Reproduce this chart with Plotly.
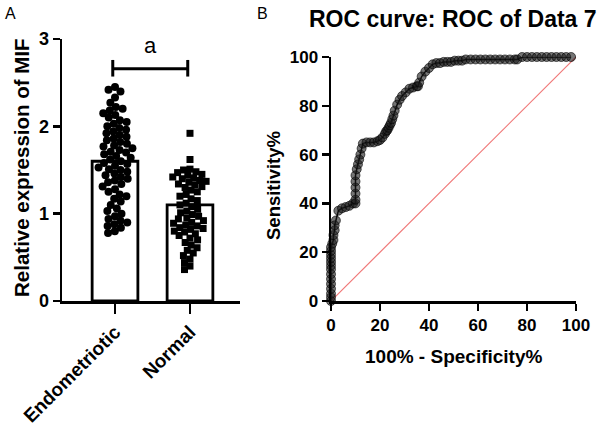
import math
import plotly.graph_objects as go

# ---------------- data ----------------
groups = ["Endometriotic", "Normal"]
bar_means = [1.60, 1.10]
endo_vals = [2.45, 2.42, 2.40, 2.33, 2.27, 2.22, 2.20, 2.18, 2.15, 2.13, 2.10, 2.07,
             2.05, 2.03, 2.00, 1.98, 1.96, 1.94, 1.92, 1.90, 1.88, 1.86, 1.84, 1.82,
             1.80, 1.78, 1.77, 1.75, 1.73, 1.71, 1.70, 1.68, 1.66, 1.64, 1.62, 1.60,
             1.58, 1.57, 1.55, 1.53, 1.51, 1.50, 1.48, 1.46, 1.44, 1.42, 1.40, 1.38,
             1.36, 1.34, 1.31, 1.28, 1.25, 1.22, 1.20, 1.17, 1.14, 1.10, 1.06, 1.03,
             1.00, 0.97, 0.94, 0.92, 0.90, 0.88, 0.86, 0.84, 0.80, 0.78]
norm_vals = [1.92, 1.62, 1.51, 1.50, 1.48, 1.47, 1.45, 1.44, 1.42, 1.41, 1.40, 1.38,
             1.37, 1.36, 1.34, 1.33, 1.31, 1.30, 1.27, 1.25, 1.22, 1.20, 1.17, 1.15,
             1.12, 1.10, 1.08, 1.05, 1.03, 1.01, 0.99, 0.97, 0.95, 0.94, 0.92, 0.90,
             0.89, 0.87, 0.86, 0.84, 0.83, 0.82, 0.80, 0.79, 0.77, 0.75, 0.72, 0.70,
             0.67, 0.64, 0.61, 0.58, 0.55, 0.52, 0.48, 0.44, 0.40, 0.36]

roc_fpr = [0, 0, 0, 0, 0, 0, 0, 0, 0, 0, 0, 0, 0, 0, 0.5, 1, 1, 1.5, 1.5, 2, 3, 4.5, 6,
           7.5, 9, 10, 10, 10, 10, 10, 10, 10.5, 11, 11.5, 12, 12.5, 13, 14.5, 16, 17.5,
           19, 20, 21, 22, 22.5, 23, 23.5, 24, 24.5, 25, 25.5, 26, 27, 28, 29, 30.5,
           32, 33.5, 35, 35.5, 36, 37, 38.5, 40, 41.5, 43, 44.5, 46, 47.5, 49, 50.5,
           52, 53.5, 55, 57, 59, 61, 63, 65, 67, 69, 71, 73, 75, 76, 78, 80, 82, 84,
           86, 88, 90, 92, 94, 96, 98, 100]
roc_tpr = [0, 1.5, 3, 5, 7, 9, 11, 13, 14.5, 16, 17.5, 19, 20.5, 22, 23.5, 25, 27,
           29, 31, 33, 37, 38, 38.5, 39, 40, 40, 41.5, 44, 46.5, 49, 51.5, 54, 56, 58,
           60, 62.5, 64.5, 65, 65, 65, 65.5, 66, 67, 68.5, 69.5, 70, 71, 72, 73, 74.5,
           76, 78, 80.5, 82.5, 84, 85.5, 87, 87.5, 88, 88, 89.5, 92, 94, 95.5, 97,
           97.5, 97.5, 98, 98, 98, 98.5, 98.5, 98.5, 99, 99, 99, 99, 99, 99, 99, 99,
           99, 99, 99, 99, 100, 100, 100, 100, 100, 100, 100, 100, 100, 100, 100]
diag = [0, 100]

y_ticks_left = [0, 1, 2, 3]
roc_ticks = [0, 20, 40, 60, 80, 100]

# ---------------- layout geometry ----------------
W, H = 603, 427
FONT = "Liberation Sans, Arial, sans-serif"


def px(x):
    return x / W


def py(y):
    return 1 - y / H


L_X0, L_X1, L_Y0, L_Y1 = 62, 240, 39, 301
R_X0, R_X1, R_Y0, R_Y1 = 331, 576, 57, 301
xr_left = [-0.707, 1.667]
ypx_unit = (L_Y1 - L_Y0) / 3.0
xpx_unit = (L_X1 - L_X0) / (xr_left[1] - xr_left[0])


def swarm(vals, dpx):
    placed = []
    out = [0.0] * len(vals)
    order = sorted(range(len(vals)), key=lambda i: -vals[i])
    for i in order:
        y = vals[i] * ypx_unit
        ivs = []
        for (xj, yj) in placed:
            dy = abs(y - yj)
            if dy < dpx:
                h = math.sqrt(dpx * dpx - dy * dy)
                ivs.append((xj - h, xj + h))
        cands = [0.0] + [e for iv in ivs for e in iv]
        cands.sort(key=lambda c: (abs(c), c))
        pick = 0.0
        for c in cands:
            if all(not (lo + 1e-6 < c < hi - 1e-6) for lo, hi in ivs):
                pick = c
                break
        placed.append((pick, y))
        out[i] = pick / xpx_unit
    return out


endo_x = [0 + o for o in swarm(endo_vals, 7.0)]
norm_x = [1 + o for o in swarm(norm_vals, 6.5)]

fig = go.Figure()

fig.add_trace(go.Bar(x=[0, 1], y=bar_means, width=0.61,
                     marker=dict(color="white", line=dict(color="black", width=2.8)),
                     xaxis="x", yaxis="y", showlegend=False, hoverinfo="skip"))
fig.add_trace(go.Scatter(x=endo_x, y=endo_vals, mode="markers",
                         marker=dict(symbol="circle", size=8, color="black"),
                         xaxis="x", yaxis="y", showlegend=False, cliponaxis=False))
fig.add_trace(go.Scatter(x=norm_x, y=norm_vals, mode="markers",
                         marker=dict(symbol="square", size=7, color="black"),
                         xaxis="x", yaxis="y", showlegend=False, cliponaxis=False))

# ROC
fig.add_trace(go.Scatter(x=diag, y=diag, mode="lines",
                         line=dict(color="#f07878", width=1.2),
                         xaxis="x2", yaxis="y2", showlegend=False))
fig.add_trace(go.Scatter(x=roc_fpr, y=roc_tpr, mode="lines+markers",
                         line=dict(color="black", width=1.5),
                         marker=dict(symbol="circle", size=9, color="rgba(25,25,25,0.6)",
                                     line=dict(color="rgba(0,0,0,0.6)", width=1)),
                         xaxis="x2", yaxis="y2", showlegend=False, cliponaxis=False))

axis_common = dict(showline=True, linecolor="black", linewidth=2.5, ticks="outside",
                   tickwidth=2.5, tickcolor="black", showgrid=False, zeroline=False,
                   fixedrange=True, automargin=False)

fig.update_layout(
    width=W, height=H, autosize=False,
    margin=dict(l=0, r=0, t=0, b=0, pad=0),
    paper_bgcolor="white", plot_bgcolor="white",
    font=dict(family=FONT, color="black"),
    bargap=0,
    xaxis=dict(axis_common, domain=[px(L_X0), px(L_X1)], range=xr_left,
               tickvals=[0, 1], ticktext=groups, tickangle=-45, ticklen=10,
               tickfont=dict(size=19, weight="bold", family=FONT), anchor="y"),
    yaxis=dict(axis_common, domain=[py(L_Y1), py(L_Y0)], range=[0, 3],
               tickvals=y_ticks_left, ticklen=7,
               tickfont=dict(size=18, weight="bold", family=FONT), anchor="x"),
    xaxis2=dict(axis_common, domain=[px(R_X0), px(R_X1)], range=[0, 100],
                tickvals=roc_ticks, ticklen=7,
                tickfont=dict(size=17, weight="bold", family=FONT), anchor="y2"),
    yaxis2=dict(axis_common, domain=[py(R_Y1), py(R_Y0)], range=[0, 100],
                tickvals=roc_ticks, ticklen=7,
                tickfont=dict(size=17, weight="bold", family=FONT), anchor="x2"),
)

# significance bracket
yb = 2.66
fig.add_shape(type="line", xref="x", yref="y", x0=-0.03, x1=0.97, y0=yb, y1=yb,
              line=dict(color="black", width=3))
for xc in (-0.03, 0.97):
    fig.add_shape(type="line", xref="x", yref="y", x0=xc, x1=xc, y0=2.57, y1=2.76,
                  line=dict(color="black", width=3))

ann = [
    dict(text="a", x=0.47, y=2.92, xref="x", yref="y", font=dict(size=22)),
    dict(text="A", x=px(10), y=py(13), font=dict(size=16)),
    dict(text="B", x=px(262), y=py(13), font=dict(size=16)),
    dict(text="Relative expression of MIF", x=px(21), y=py(168), textangle=-90,
         font=dict(size=20.5, weight="bold")),
    dict(text="ROC curve: ROC of Data 7", x=px(453), y=py(19),
         font=dict(size=23, weight="bold")),
    dict(text="Sensitivity%", x=px(273), y=py(186), textangle=-90,
         font=dict(size=18.5, weight="bold")),
    dict(text="100% - Specificity%", x=px(454), y=py(356),
         font=dict(size=19, weight="bold")),
]
for a in ann:
    a.setdefault("xref", "paper")
    a.setdefault("yref", "paper")
    a["showarrow"] = False
    a["xanchor"] = "center"
    a["yanchor"] = "middle"
    a["font"].setdefault("family", FONT)
    a["font"].setdefault("color", "black")
    fig.add_annotation(**a)

fig.write_html("out.html",
               config={"displayModeBar": False, "staticPlot": True},
               post_script="document.body.style.margin='0';document.body.style.overflow='hidden';")
